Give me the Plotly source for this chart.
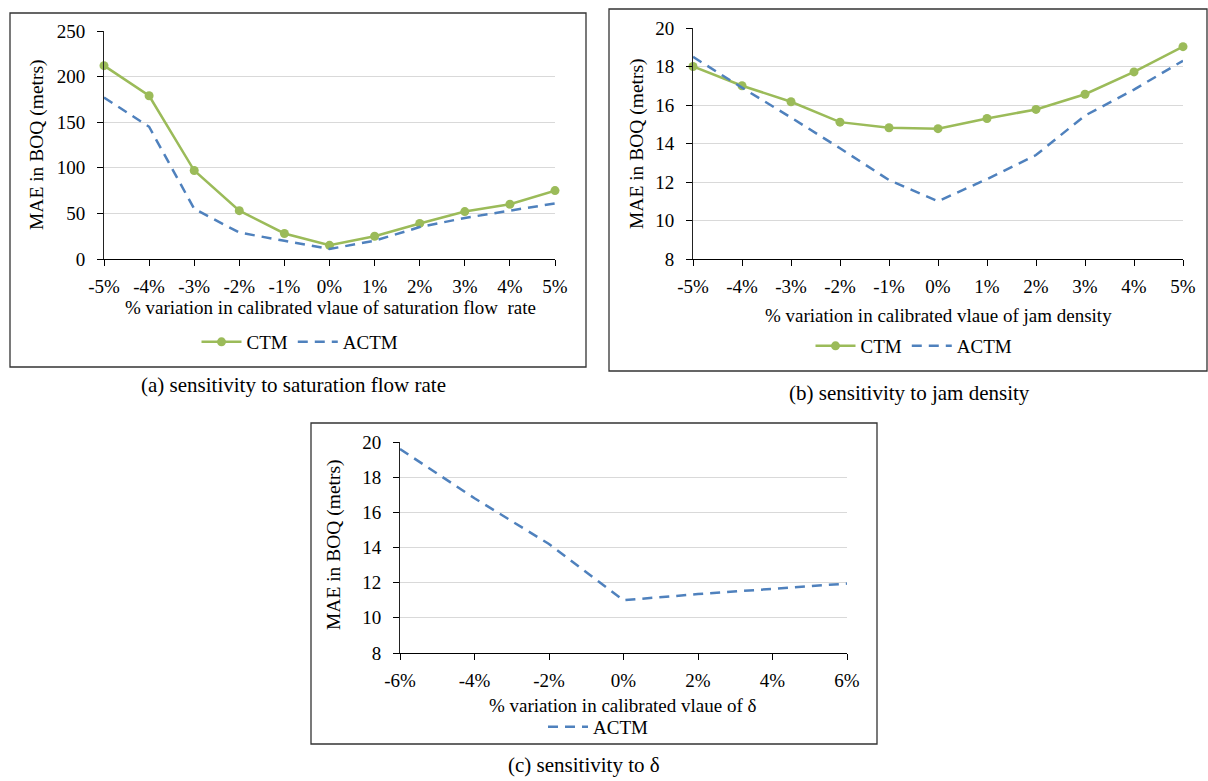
import plotly.graph_objects as go

# ---------------- data ----------------
pct_ab = ["-5%", "-4%", "-3%", "-2%", "-1%", "0%", "1%", "2%", "3%", "4%", "5%"]
ctm_a = [212, 179, 97, 53, 28, 15, 25, 39, 52, 60, 75]
actm_a = [177, 145, 55, 29, 20, 11, 20, 35, 45, 53, 61]

ctm_b = [18.0, 17.0, 16.17, 15.11, 14.82, 14.77, 15.3, 15.77, 16.56, 17.72, 19.03]
actm_b = [18.5, 16.9, 15.35, 13.75, 12.1, 11.0, 12.15, 13.4, 15.45, 16.8, 18.3]

pct_c = ["-6%", "-4%", "-2%", "0%", "2%", "4%", "6%"]
actm_c = [19.6, 16.8, 14.2, 11.0, 11.35, 11.65, 11.95]

yticks_a = [0, 50, 100, 150, 200, 250]
yticks_bc = [8, 10, 12, 14, 16, 18, 20]

# ---------------- layout helpers ----------------
W, H = 1208, 781
def px(x):
    return x / W
def py(y):
    return 1 - y / H

FONT = "Liberation Serif, Times New Roman, Tinos, DejaVu Serif, serif"
GREEN = "#9BBB59"
BLUE = "#4F81BD"
GRID = "#D9D9D9"

fig = go.Figure()

def ctm_trace(x, y, xa, ya, leg):
    return go.Scatter(x=x, y=y, xaxis=xa, yaxis=ya, name="CTM", legend=leg,
                      mode="lines+markers", cliponaxis=False,
                      line=dict(color=GREEN, width=2.5),
                      marker=dict(color=GREEN, size=9, symbol="circle"))

def actm_trace(x, y, xa, ya, leg):
    return go.Scatter(x=x, y=y, xaxis=xa, yaxis=ya, name="ACTM", legend=leg,
                      mode="lines", cliponaxis=False,
                      line=dict(color=BLUE, width=2.5, dash="10px,7px"))

fig.add_trace(ctm_trace(pct_ab, ctm_a, "x", "y", "legend"))
fig.add_trace(actm_trace(pct_ab, actm_a, "x", "y", "legend"))
fig.add_trace(ctm_trace(pct_ab, ctm_b, "x2", "y2", "legend2"))
fig.add_trace(actm_trace(pct_ab, actm_b, "x2", "y2", "legend2"))
fig.add_trace(actm_trace(pct_c, actm_c, "x3", "y3", "legend3"))

tickfont = dict(family=FONT, size=19, color="#000")

def xaxis(l, r, n, anchor):
    return dict(domain=[px(l), px(r)], anchor=anchor, type="category",
                range=[0, n - 1], showgrid=False, zeroline=False,
                showline=True, linecolor="#000", linewidth=1,
                ticks="outside", ticklen=6, tickcolor="#000", tickwidth=1,
                tickfont=tickfont, ticklabelstandoff=4, fixedrange=True,
                automargin=False)

def yaxis(t, b, rng, vals, anchor):
    return dict(domain=[py(b), py(t)], anchor=anchor, range=rng, tickvals=vals,
                showgrid=True, gridcolor=GRID, gridwidth=1.3, zeroline=False,
                showline=True, linecolor="#222", linewidth=1,
                ticks="outside", ticklen=6, tickcolor="#000", tickwidth=1,
                tickfont=tickfont, ticklabelstandoff=8, fixedrange=True,
                automargin=False)

# plot areas (pixel coordinates)
A = dict(l=104, r=555, t=31, b=259)
B = dict(l=693, r=1183, t=28, b=259)
C = dict(l=400, r=847, t=442, b=653)

xa = xaxis(A["l"], A["r"], len(pct_ab), "y")
xb = xaxis(B["l"], B["r"], len(pct_ab), "y2")
xc = xaxis(C["l"], C["r"], len(pct_c), "y3")
ya = yaxis(A["t"], A["b"], [0, 250], yticks_a, "x")
yb = yaxis(B["t"], B["b"], [8, 20], yticks_bc, "x2")
yc = yaxis(C["t"], C["b"], [8, 20], yticks_bc, "x3")

legfont = dict(family=FONT, size=19, color="#000")
def legend(xc_, yc_):
    return dict(x=px(xc_), y=py(yc_), xanchor="center", yanchor="middle",
                orientation="h", font=legfont, bgcolor="rgba(0,0,0,0)",
                itemwidth=40, tracegroupgap=0)

shapes = []
for (l, t, r, b) in [(10, 13, 586, 367), (609, 9, 1207, 371), (311, 423, 877, 744)]:
    shapes.append(dict(type="rect", xref="paper", yref="paper",
                       x0=px(l), x1=px(r), y0=py(b), y1=py(t),
                       line=dict(color="#333333", width=1.3), fillcolor="rgba(0,0,0,0)"))

annos = []
def text(x, y, s, size=19, angle=0):
    annos.append(dict(x=px(x), y=py(y), xref="paper", yref="paper", text=s,
                      showarrow=False, xanchor="center", yanchor="middle",
                      textangle=angle, font=dict(family=FONT, size=size, color="#000")))

# y titles
text(37, 145, "MAE in BOQ (metrs)", size=19.5, angle=-90)
text(637, 144, "MAE in BOQ (metrs)", size=19.5, angle=-90)
text(334, 545, "MAE in BOQ (metrs)", size=19.5, angle=-90)
# x titles
text(330, 308, "% variation in calibrated vlaue of saturation flow  rate")
text(938, 315, "% variation in calibrated vlaue of jam density")
text(623, 705, "% variation in calibrated vlaue of δ")
# captions
text(293, 385, "(a) sensitivity to saturation flow rate", size=21)
text(909, 393, "(b) sensitivity to jam density", size=21)
text(584, 765, "(c) sensitivity to δ", size=21)

fig.update_layout(
    template="none",
    width=W, height=H, autosize=False,
    margin=dict(l=0, r=0, t=0, b=0, pad=0),
    paper_bgcolor="white", plot_bgcolor="white",
    font=dict(family=FONT, size=19, color="#000"),
    xaxis=xa, yaxis=ya, xaxis2=xb, yaxis2=yb, xaxis3=xc, yaxis3=yc,
    legend=legend(300, 342), legend2=legend(914, 346), legend3=legend(598, 727),
    shapes=shapes, annotations=annos, showlegend=True,
)

fig.write_html("out.html")
